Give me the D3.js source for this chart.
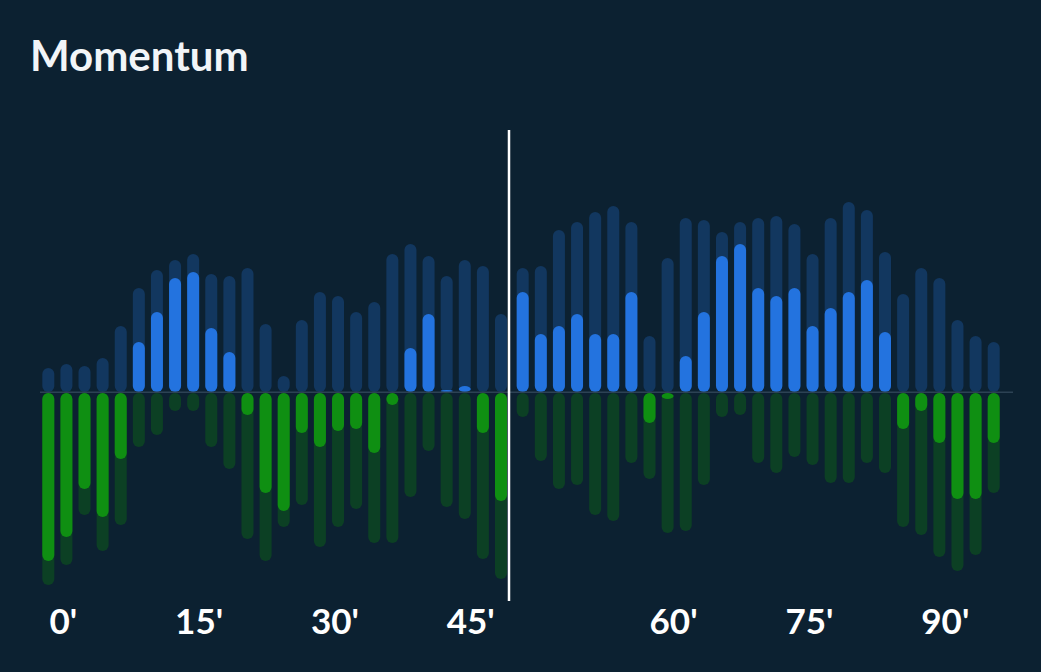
<!DOCTYPE html>
<html>
<head>
<meta charset="utf-8">
<script src="https://cdn.jsdelivr.net/npm/d3@7"></script>
<style>
  html, body { margin: 0; padding: 0; background: #0c2131; }
  svg { display: block; }
</style>
</head>
<body>
<svg id="chart" width="1041" height="672"></svg>
<script>
// ---- data (momentum per 2-minute slot) ----
const firstHalfMinutes = d3.range(0, 52, 2);   // 26 slots
const secondHalfMinutes = d3.range(45, 99, 2); // 27 slots

const homeFirst = [12,14,13,17,33,52,61,66,69,59,58,62,34,8,36,50,48,40,45,69,74,68,58,66,63,39];
const awayFirst = [96,86,61,79,66,27,21,9,9,27,38,73,84,67,56,77,67,58,75,75,52,29,57,63,83,93];
const homeSecond = [62,63,81,85,90,93,85,28,67,87,86,80,85,87,88,84,69,87,95,91,70,49,62,57,36,28,25];
const awaySecond = [12,34,48,46,61,64,35,43,70,69,46,12,11,35,40,32,36,45,45,35,40,67,71,82,89,81,50];

const tickMinutes = [0, 15, 30, 45, 60, 75, 90];
const tickLabels = ["0'", "15'", "30'", "45'", "60'", "75'", "90'"];
const title = "Momentum";

// ---- layout ----
const svg = d3.select("#chart");
const W = 1041, H = 672;
svg.append("rect").attr("width", W).attr("height", H).attr("fill", "#0c2131");

const y = d3.scaleLinear().domain([-100, 100]).range([592, 192]);
const y0 = y(0);
const barW = 12;

const x1 = d3.scaleLinear().domain([0, 50]).range([48.3, 501]);
const x2 = d3.scaleLinear().domain([45, 97]).range([522.7, 993.7]);

const colors = {
  homeBg: "#12375f",
  awayBg: "#0c4024",
  homeFg: "#2373df",
  awayFg: "#0f8f12",
  base: "#2c4254"
};

const bars = [];
firstHalfMinutes.forEach((m, i) => bars.push({ x: x1(m), home: homeFirst[i], away: awayFirst[i] }));
secondHalfMinutes.forEach((m, i) => bars.push({ x: x2(m), home: homeSecond[i], away: awaySecond[i] }));

const g = svg.append("g");

// background (total) bars
g.selectAll(".hb").data(bars).join("rect")
  .attr("x", d => d.x - barW / 2).attr("width", barW)
  .attr("y", d => y(d.home)).attr("height", d => y0 - y(d.home))
  .attr("rx", barW / 2).attr("fill", colors.homeBg);

g.selectAll(".ab").data(bars).join("rect")
  .attr("x", d => d.x - barW / 2).attr("width", barW)
  .attr("y", y0 + 1).attr("height", d => y(-d.away) - y0)
  .attr("rx", barW / 2).attr("fill", colors.awayBg);

// baseline
svg.append("line")
  .attr("x1", 40).attr("x2", 1013)
  .attr("y1", y0 + 0.2).attr("y2", y0 + 0.2)
  .attr("stroke", colors.base).attr("stroke-width", 1.6);

// net (foreground) bars
const net = bars.map(d => ({ x: d.x, v: d.home - d.away }));
g.append("g").selectAll("rect").data(net.filter(d => d.v > 0)).join("rect")
  .attr("x", d => d.x - barW / 2).attr("width", barW)
  .attr("y", d => y(d.v)).attr("height", d => y0 - y(d.v))
  .attr("rx", barW / 2).attr("fill", colors.homeFg);
g.append("g").selectAll("rect").data(net.filter(d => d.v < 0)).join("rect")
  .attr("x", d => d.x - barW / 2).attr("width", barW)
  .attr("y", y0 + 1).attr("height", d => y(d.v) - y0)
  .attr("rx", barW / 2).attr("fill", colors.awayFg);

// half-time line
svg.append("line")
  .attr("x1", 509).attr("x2", 509)
  .attr("y1", 130).attr("y2", 601)
  .attr("stroke", "#ffffff").attr("stroke-width", 2.5);

// x labels
const labelX = m => (m <= 45 ? x1(m) : x2(m)) + 15;
svg.append("g").selectAll("text").data(tickMinutes).join("text")
  .attr("x", d => labelX(d))
  .attr("y", 634)
  .attr("text-anchor", "middle")
  .attr("fill", "#ffffff")
  .attr("font-family", "Lato, 'Open Sans', sans-serif")
  .attr("font-weight", 700)
  .attr("font-size", 35)
  .text((d, i) => tickLabels[i]);

// title
svg.append("text")
  .attr("x", 30).attr("y", 70.5)
  .attr("fill", "#f2f5f8")
  .attr("font-family", "Lato, 'Open Sans', sans-serif")
  .attr("font-weight", 700)
  .attr("font-size", 42)
  .text(title);
</script>
</body>
</html>
